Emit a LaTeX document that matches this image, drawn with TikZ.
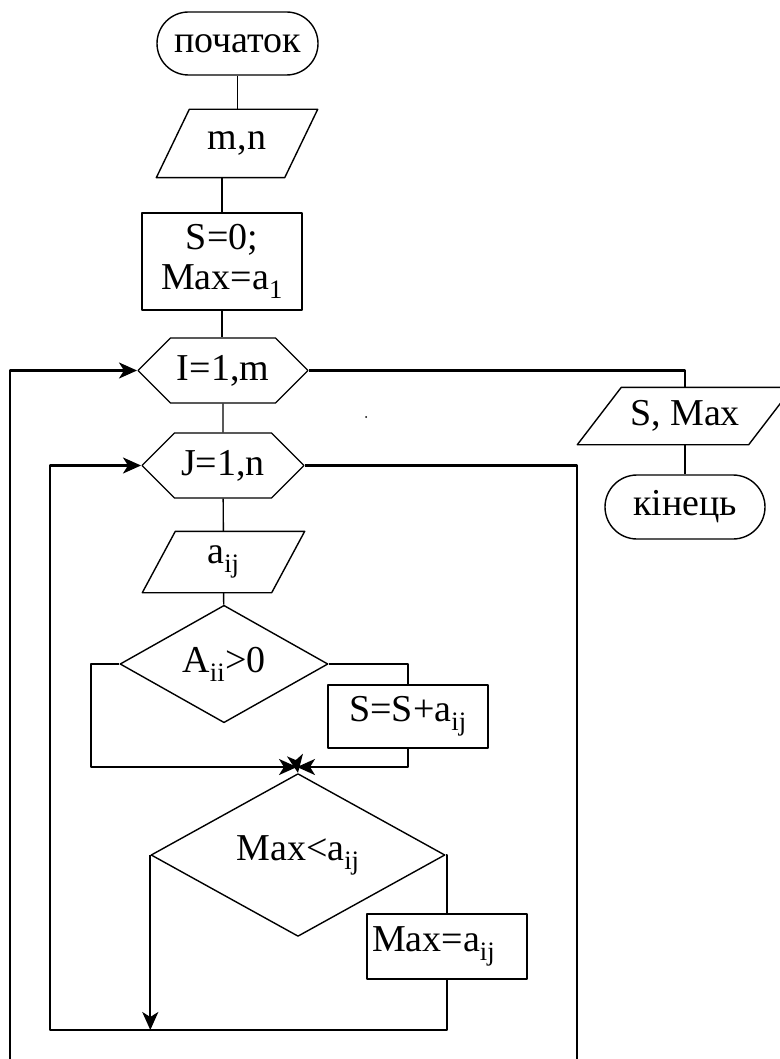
\documentclass[tikz,border=0pt]{standalone}
\usepackage{fontspec}
\setmainfont{Liberation Serif}
\usetikzlibrary{shapes.misc,shapes.geometric,shapes.symbols,arrows.meta}
% slanted input/output box drawn round a named node
\newcommand\ioshape[2]{\draw[line width=1.4pt] ([xshift=#2]#1.north west) -- (#1.north east) -- ([xshift=-#2]#1.south east) -- (#1.south west) -- cycle;}
\begin{document}
\begin{tikzpicture}[x=1pt,y=-1pt,>={Stealth[length=18pt,width=16pt,inset=5pt]},line join=round,
    font=\fontsize{38}{40}\selectfont,
    every node/.style={line width=1.4pt, inner sep=0pt},
    term/.style={draw, rounded rectangle, minimum width=161pt, minimum height=63pt},
    io/.style={rectangle},
    proc/.style={draw, rectangle, minimum width=160pt},
    cond/.style={draw, diamond},
    hexa/.style={draw, signal, signal to=west and east, signal pointer angle=90, minimum height=65pt},
    conn/.style={line width=1.4pt},
    branch/.style={line width=2.2pt}]
    \useasboundingbox (0,0) rectangle (779,1059);
    % blocks
    \node[term] (start) at (237.5,43.5) {початок};
    \node[io, minimum width=160pt, minimum height=67pt] (mn) at (237,143.5) {m,n};
    \ioshape{mn}{33pt}
    \node[proc, minimum height=97pt, align=center] (init) at (222,261.5) {S=0;\\Max=a\textsubscript{1}};
    \node[hexa, minimum width=170pt] (iloop) at (223,370.5) {I=1,m};
    \node[hexa, minimum width=162pt] (jloop) at (223,465.5) {J=1,n};
    \node[io, minimum width=161pt, minimum height=60pt] (aij) at (223.5,562) {a\textsubscript{ij}};
    \ioshape{aij}{33pt}
    \node[cond, minimum width=208pt, minimum height=82pt] (c1) at (224,664) {A\textsubscript{ii}>0};
    \node[proc, minimum height=63pt] (sum) at (408,716.5) {S=S+a\textsubscript{ij}};
    \node[cond, minimum width=294pt, minimum height=100pt] (c2) at (298,855) {Max<a\textsubscript{ij}};
    \node[proc, minimum height=65pt, text width=150pt, inner xsep=5pt, align=left] (upd) at (447,946.5) {Max=a\textsubscript{ij}};
    \node[io, minimum width=214pt, minimum height=56pt] (out) at (685,416) {S, Max};
    \ioshape{out}{44pt}
    \node[term, minimum width=160pt, minimum height=64pt] (stop) at (685,507) {кінець};
    \fill (366,417) circle (1pt);
    % turning points
    \coordinate (m1) at (297,767);
    \coordinate (lft) at (91,767);
    \coordinate (jback) at (50,1030);
    \coordinate (jout) at (577,1059);
    \coordinate (iback) at (10,1059);
    % connectors
    \draw[conn] (start.south) -- (start.south |- mn.north);
    \draw[conn] (init.north) -- (init.north |- mn.south);
    \draw[conn] (init.south) -- (init.south |- iloop.north);
    \draw[conn] (iloop) -- (jloop);
    \draw[conn] (jloop) -- (aij);
    \draw[conn] (aij) -- (c1);
    \draw[branch,->] (c1.west) -| (lft) -- (m1);
    \draw[branch] (c1.east) -| (sum.north);
    \draw[branch,->] (sum.south) |- (m1);
    \draw[branch,->] (m1) -- (c2.north);
    \draw[branch,->] (c2.west) -- (c2.west |- jback);
    \draw[branch] (c2.east) -| (upd.north);
    \draw[branch,->] (upd.south) |- (jback) |- (jloop.west);
    \draw[branch] (jloop.east) -| (jout);
    \draw[branch,->] (iback) |- (iloop.west);
    \draw[branch] (iloop.east) -| (out.north);
    \draw[conn] (out) -- (stop);
\end{tikzpicture}
\end{document}
